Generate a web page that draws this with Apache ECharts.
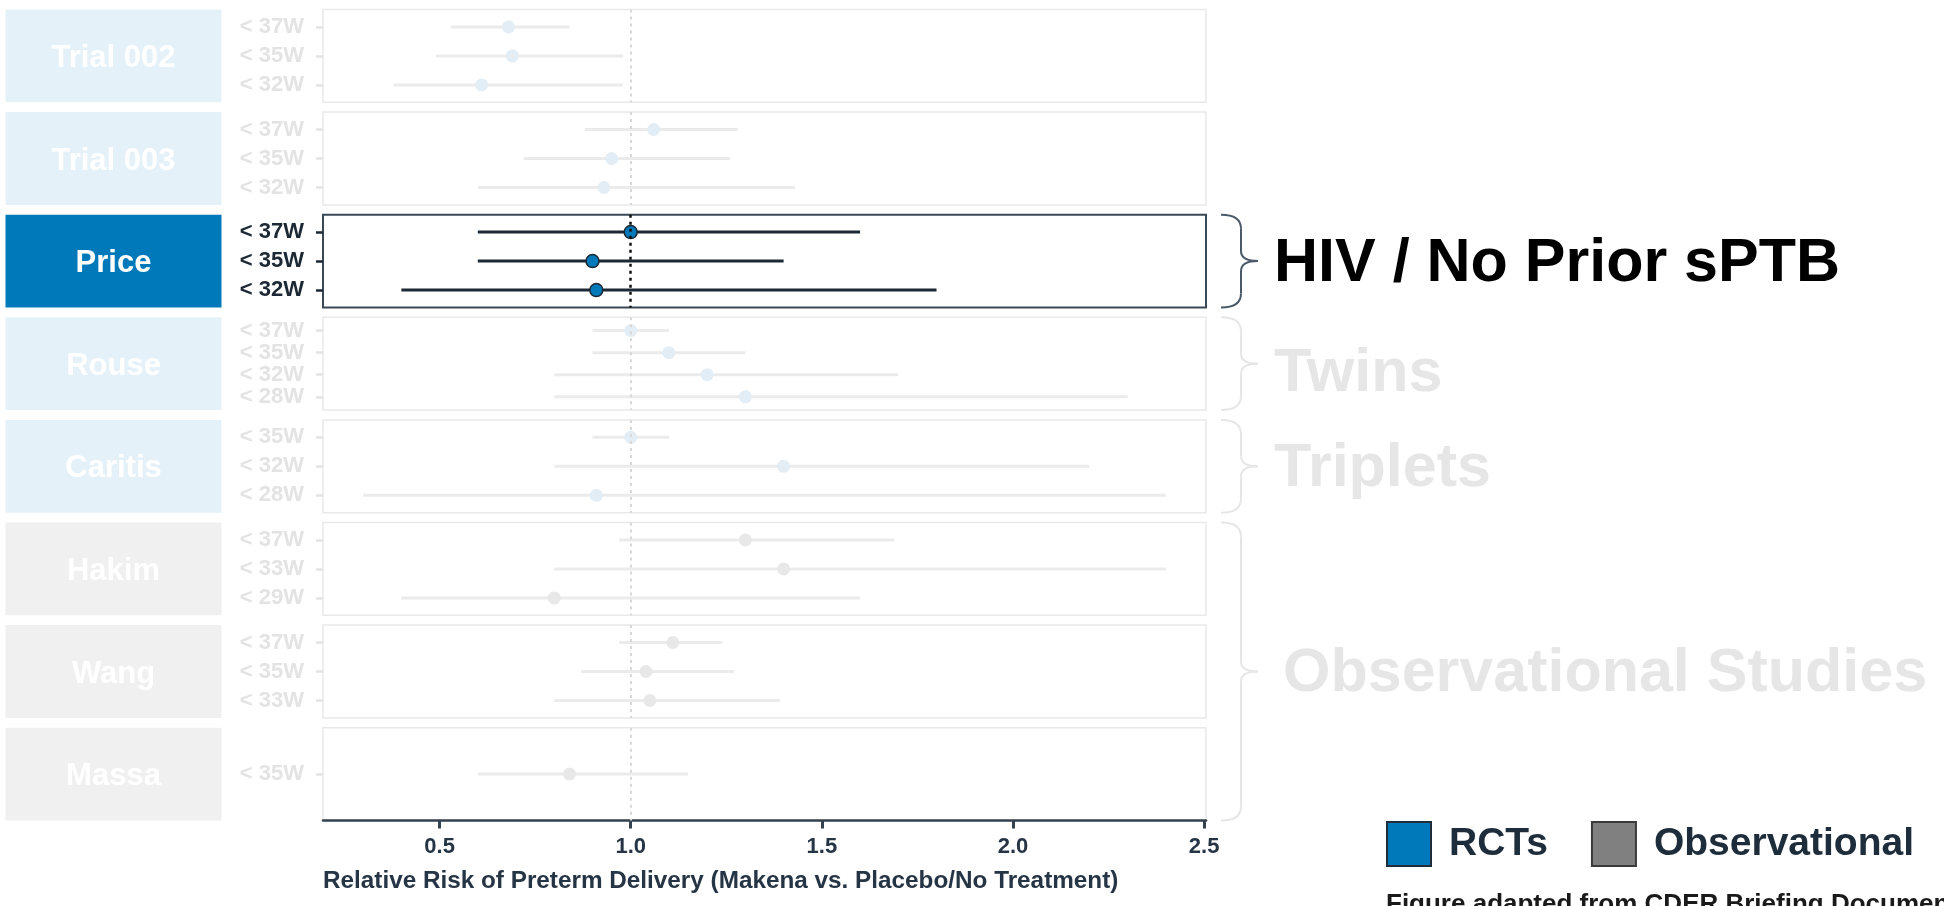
<!DOCTYPE html>
<html>
<head>
<meta charset="utf-8">
<script src="https://cdn.jsdelivr.net/npm/echarts@6/dist/echarts.min.js"></script>
<style>
html,body{margin:0;padding:0;background:#fff;}
#chart{width:1944px;height:906px;}
</style>
</head>
<body>
<div id="chart"></div>
<script>
// ---------- DATA ----------
const studies = ['Trial 002', 'Trial 003', 'Price', 'Rouse', 'Caritis', 'Hakim', 'Wang', 'Massa'];
const designs = ['RCT', 'RCT', 'RCT', 'RCT', 'RCT', 'Observational', 'Observational', 'Observational'];
const outcomes = [
  ['< 37W', '< 35W', '< 32W'],
  ['< 37W', '< 35W', '< 32W'],
  ['< 37W', '< 35W', '< 32W'],
  ['< 37W', '< 35W', '< 32W', '< 28W'],
  ['< 35W', '< 32W', '< 28W'],
  ['< 37W', '< 33W', '< 29W'],
  ['< 37W', '< 35W', '< 33W'],
  ['< 35W']
];
const relRisk = [
  [0.68, 0.69, 0.61],
  [1.06, 0.95, 0.93],
  [1.00, 0.90, 0.91],
  [1.00, 1.10, 1.20, 1.30],
  [1.00, 1.40, 0.91],
  [1.30, 1.40, 0.80],
  [1.11, 1.04, 1.05],
  [0.84]
];
const ciLower = [
  [0.53, 0.49, 0.38],
  [0.88, 0.72, 0.60],
  [0.60, 0.60, 0.40],
  [0.90, 0.90, 0.80, 0.80],
  [0.90, 0.80, 0.30],
  [0.97, 0.80, 0.40],
  [0.97, 0.87, 0.80],
  [0.60]
];
const ciUpper = [
  [0.84, 0.98, 0.98],
  [1.28, 1.26, 1.43],
  [1.60, 1.40, 1.80],
  [1.10, 1.30, 1.70, 2.30],
  [1.10, 2.20, 2.40],
  [1.69, 2.40, 1.60],
  [1.24, 1.27, 1.39],
  [1.15]
];
const highlightedStudy = 'Price';
const groupNames = ['HIV / No Prior sPTB', 'Twins', 'Triplets', 'Observational Studies'];
const groupFirstStudy = [2, 3, 4, 5];
const groupLastStudy = [2, 3, 4, 7];
const xTicks = [0.5, 1.0, 1.5, 2.0, 2.5];
const refValue = 1.0;
const xTitle = 'Relative Risk of Preterm Delivery (Makena vs. Placebo/No Treatment)';
const legendNames = ['RCTs', 'Observational'];
const caption = 'Figure adapted from CDER Briefing Document';

// ---------- LAYOUT / STYLE ----------
const FONT = '"Liberation Sans", Arial, Helvetica, sans-serif';
const L = {
  panelTop: 9.5, panelPitch: 102.6, panelH: 92.8,
  plotLeft: 323, plotWidth: 883,
  xMin: 0.195, xMax: 2.505,
  boxLeft: 5.5, boxWidth: 216, boxTextDy: 2.5,
  braceX0: 1221, braceX1: 1241, braceTip: 1258,
  groupLabelX: [1274, 1274, 1274, 1283], groupLabelDy: [3, 10, 3, 3]
};
const C = {
  rctActive: '#0079ba', rctFaded: '#e5f1f8', obsFaded: '#f0f0f0',
  dark: '#1c2833', axis: '#34424f', axisText: '#263545',
  fadedLine: '#ebebeb', fadedText: '#e3e3e3', fadedBorder: '#e9e9e9',
  fadedPointRct: '#e2edf5', fadedPointObs: '#e8e8e8', fadedRef: '#d8d8d8',
  groupFaded: '#e6e6e6'
};

const grids = [], xAxes = [], yAxes = [], series = [], graphics = [];
const panelTops = studies.map((s, i) => L.panelTop + i * L.panelPitch);

studies.forEach((name, i) => {
  const active = name === highlightedStudy;
  const isLast = i === studies.length - 1;
  const n = outcomes[i].length;
  const rows = outcomes[i].map((o, k) => k + 1);
  grids.push({
    left: L.plotLeft, width: L.plotWidth, top: panelTops[i], height: L.panelH,
    show: true, backgroundColor: '#fff',
    borderColor: active ? '#3b4856' : C.fadedBorder, borderWidth: active ? 2 : 1.5
  });
  xAxes.push({
    gridIndex: i, type: 'value', min: L.xMin, max: L.xMax,
    splitLine: { show: false },
    axisLine: { show: isLast, lineStyle: { color: C.axis, width: 2.5 } },
    axisTick: { show: isLast, customValues: xTicks, length: 8, lineStyle: { color: C.axis, width: 3 } },
    axisLabel: {
      show: isLast, customValues: xTicks, margin: 15,
      formatter: v => v.toFixed(1),
      fontFamily: FONT, fontWeight: 'bold', fontSize: 22, color: C.axisText
    },
    name: isLast ? xTitle : '', nameLocation: 'start', nameGap: 0,
    nameTextStyle: {
      align: 'left', verticalAlign: 'top', padding: [49, 0, 0, 0],
      fontFamily: FONT, fontWeight: 'bold', fontSize: 24.3, color: C.axisText
    }
  });
  yAxes.push({
    gridIndex: i, type: 'value', inverse: true, min: 0.4, max: n + 0.6,
    splitLine: { show: false },
    axisLine: { show: false },
    axisTick: { show: true, customValues: rows, length: 7, lineStyle: { color: active ? C.dark : C.fadedText, width: 2.5 } },
    axisLabel: {
      customValues: rows, margin: 19,
      formatter: v => outcomes[i][Math.round(v) - 1] || '',
      fontFamily: FONT, fontWeight: 'bold', fontSize: 22,
      color: active ? C.dark : C.fadedText
    }
  });
  const ciData = outcomes[i].map((o, k) => [k + 1, ciLower[i][k], ciUpper[i][k]]);
  series.push({
    type: 'custom', name: name + ' CI', xAxisIndex: i, yAxisIndex: i, silent: true,
    data: ciData, encode: { x: [1, 2], y: 0 }, z: 1,
    renderItem: (params, api) => {
      const y = api.value(0);
      const p1 = api.coord([api.value(1), y]);
      const p2 = api.coord([api.value(2), y]);
      return {
        type: 'line',
        shape: { x1: p1[0], y1: p1[1], x2: p2[0], y2: p2[1] },
        style: { stroke: active ? C.dark : C.fadedLine, lineWidth: 3 }
      };
    }
  });
  series.push({
    type: 'scatter', name: name + ' RR', xAxisIndex: i, yAxisIndex: i, silent: true, z: 3,
    data: outcomes[i].map((o, k) => [relRisk[i][k], k + 1]),
    symbol: 'circle', symbolSize: 13,
    itemStyle: active
      ? { color: C.rctActive, borderColor: C.dark, borderWidth: 1.5, opacity: 1 }
      : { color: designs[i] === 'RCT' ? C.fadedPointRct : C.fadedPointObs, opacity: 1 },
    markLine: {
      silent: true, symbol: 'none', z: 5, animation: false,
      label: { show: false },
      lineStyle: { type: [3, 4], color: active ? '#111' : C.fadedRef, width: active ? 2.5 : 2 },
      data: [{ xAxis: refValue }]
    }
  });
  // study label box
  const boxColor = active ? C.rctActive : (designs[i] === 'RCT' ? C.rctFaded : C.obsFaded);
  graphics.push({
    type: 'rect', silent: true,
    shape: { x: L.boxLeft, y: panelTops[i], width: L.boxWidth, height: L.panelH },
    style: { fill: boxColor }
  });
  graphics.push({
    type: 'text', silent: true,
    style: {
      x: L.boxLeft + L.boxWidth / 2, y: panelTops[i] + L.panelH / 2 + L.boxTextDy, text: name,
      textAlign: 'center', textVerticalAlign: 'middle', align: 'center', verticalAlign: 'middle',
      fill: '#ffffff', font: 'bold 31px ' + FONT
    }
  });
});

// group braces and labels
groupNames.forEach((g, j) => {
  const top = panelTops[groupFirstStudy[j]];
  const bottom = panelTops[groupLastStudy[j]] + L.panelH;
  const mid = (top + bottom) / 2;
  const active = studies.slice(groupFirstStudy[j], groupLastStudy[j] + 1).indexOf(highlightedStudy) >= 0;
  const stroke = active ? '#4b5a68' : C.groupFaded;
  const st = { stroke: stroke, lineWidth: 2, fill: null };
  const a = L.braceX0, b = L.braceX1, t = L.braceTip;
  graphics.push({ type: 'bezierCurve', silent: true, shape: { x1: a, y1: top, cpx1: b, cpy1: top, x2: b, y2: top + 14 }, style: st });
  graphics.push({ type: 'line', silent: true, shape: { x1: b, y1: top + 14, x2: b, y2: mid - 10 }, style: st });
  graphics.push({ type: 'bezierCurve', silent: true, shape: { x1: b, y1: mid - 10, cpx1: b, cpy1: mid, x2: t, y2: mid }, style: st });
  graphics.push({ type: 'bezierCurve', silent: true, shape: { x1: t, y1: mid, cpx1: b, cpy1: mid, x2: b, y2: mid + 10 }, style: st });
  graphics.push({ type: 'line', silent: true, shape: { x1: b, y1: mid + 10, x2: b, y2: bottom - 14 }, style: st });
  graphics.push({ type: 'bezierCurve', silent: true, shape: { x1: b, y1: bottom - 14, cpx1: b, cpy1: bottom, x2: a, y2: bottom }, style: st });
  graphics.push({
    type: 'text', silent: true,
    style: {
      x: L.groupLabelX[j], y: mid + L.groupLabelDy[j], text: g,
      textAlign: 'left', textVerticalAlign: 'middle', align: 'left', verticalAlign: 'middle',
      fill: active ? '#000000' : C.groupFaded, font: 'bold 61px ' + FONT
    }
  });
});

// caption
graphics.push({
  type: 'text', silent: true,
  style: {
    x: 1386, y: 892, text: caption,
    textAlign: 'left', textVerticalAlign: 'top', align: 'left', verticalAlign: 'top',
    fill: '#1a1a1a', font: 'bold 26px ' + FONT
  }
});

// legend dummy series
series.push({
  type: 'scatter', name: legendNames[0], xAxisIndex: 0, yAxisIndex: 0, data: [],
  itemStyle: { color: C.rctActive, borderColor: '#1e2d3b', borderWidth: 1.5, opacity: 1 }
});
series.push({
  type: 'scatter', name: legendNames[1], xAxisIndex: 0, yAxisIndex: 0, data: [],
  itemStyle: { color: '#808080', borderColor: '#3a3a3a', borderWidth: 1.5, opacity: 1 }
});

const chart = echarts.init(document.getElementById('chart'), null, { renderer: 'canvas' });
chart.setOption({
  animation: false,
  backgroundColor: '#ffffff',
  grid: grids,
  xAxis: xAxes,
  yAxis: yAxes,
  legend: {
    left: 1386, top: 821, padding: 0, orient: 'horizontal',
    itemWidth: 44, itemHeight: 44, itemGap: 43, selectedMode: false,
    itemStyle: { opacity: 1 },
    data: legendNames.map(n => ({ name: n, icon: 'rect' })),
    textStyle: { fontFamily: FONT, fontWeight: 'bold', fontSize: 39, color: '#1e2d3b', padding: [0, 0, 0, 13] }
  },
  series: series,
  graphic: { elements: graphics }
});
</script>
</body>
</html>
